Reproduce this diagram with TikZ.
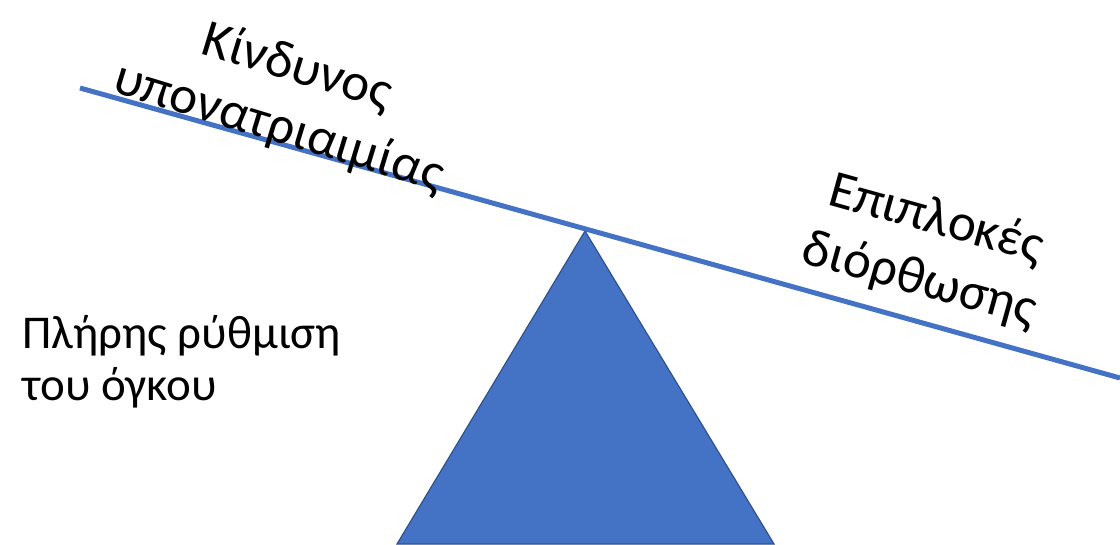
\documentclass[tikz,border=0pt]{standalone}
\usepackage{fontspec}
\setmainfont{Carlito}
\definecolor{beamblue}{HTML}{4472C4}
\definecolor{edgeblue}{HTML}{2F528F}
\begin{document}
\begin{tikzpicture}[x=1pt,y=-1pt,thick]
\useasboundingbox (0,0) rectangle (1120,544);
\tikzset{label/.style={font=\fontsize{47}{52}\selectfont,align=center,inner sep=0pt},
  tilted/.style={label,font=\fontsize{53}{63}\selectfont}}
\coordinate (apex) at (585,231);
\coordinate (baseL) at (397,544);
\coordinate (baseR) at (774,544);
\draw[edgeblue,fill=beamblue,line width=1.2pt] (apex)--(baseR)--(baseL)--cycle;

\coordinate (beamL) at (80,88);
\coordinate (beamR) at (1120,378);
\draw[beamblue,line width=5pt] (beamL)--(beamR);

\node[tilted,rotate=-17] (risk) at (288,98) {Κίνδυνος\\υπονατριαιμίας};
\node[tilted,rotate=-15.5] (compl) at (928,250) {Επιπλοκές\\διόρθωσης};
\node[label,align=left,anchor=base west] (volume) at (22,400) {Πλήρης ρύθμιση\\του όγκου};
\end{tikzpicture}
\end{document}
